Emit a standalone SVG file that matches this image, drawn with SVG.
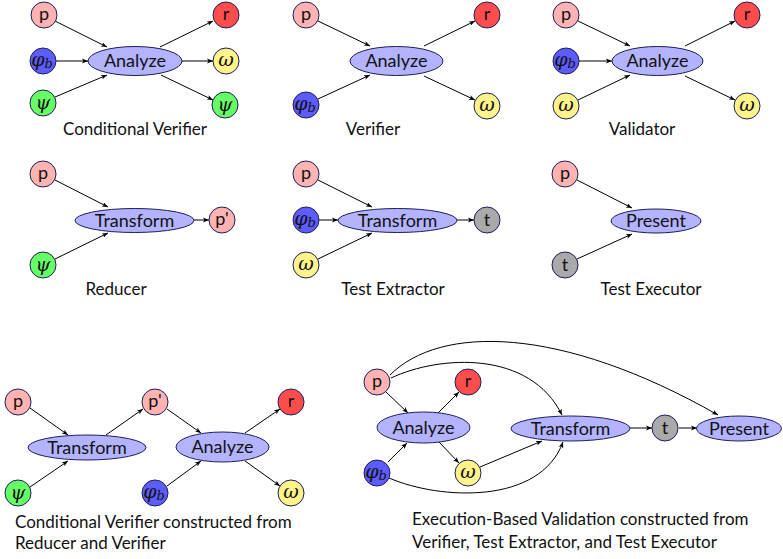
<svg xmlns="http://www.w3.org/2000/svg" width="783" height="559" viewBox="0 0 783 559">
<defs>
<marker id="ah" viewBox="0 0 10 10" refX="10" refY="5" markerWidth="6" markerHeight="6" orient="auto" markerUnits="userSpaceOnUse">
<path d="M0,1 L10,5 L0,9 L2.5,5 Z" fill="#000"/>
</marker>
<style>
.c{stroke:#1e1e5a;stroke-width:1}
.pk{fill:#ffb3b3}.rd{fill:#ff4d4d}.bl{fill:#5c5cff}.gr{fill:#66ff66}.yl{fill:#fff38c}.gy{fill:#aaaaaa}
.el{fill:#b3b3ff;stroke:#1e1e5a;stroke-width:1}
.t{font-family:Lato,"Liberation Sans",sans-serif;font-size:18px;fill:#111;text-anchor:middle}
.m{font-family:"DejaVu Serif","Liberation Serif",serif;font-style:italic;font-size:19px;fill:#111;text-anchor:middle}
.cap{font-family:Lato,"Liberation Sans",sans-serif;font-size:17px;fill:#111}
.e{fill:none;stroke:#000;stroke-width:1;marker-end:url(#ah)}
</style>
</defs>
<rect width="783" height="559" fill="#fff"/>

<g id="connectors">
<!-- panel 1 -->
<line class="e" x1="55" y1="21" x2="107" y2="47"/>
<line class="e" x1="56" y1="61" x2="88" y2="61"/>
<line class="e" x1="55" y1="97" x2="107" y2="75"/>
<line class="e" x1="160" y1="47" x2="213" y2="21"/>
<line class="e" x1="182" y1="61" x2="213" y2="61"/>
<line class="e" x1="161" y1="75" x2="213" y2="100"/>
<!-- panel 2 -->
<line class="e" x1="318" y1="21" x2="370" y2="46"/>
<line class="e" x1="318" y1="99" x2="370" y2="75"/>
<line class="e" x1="424" y1="46" x2="475" y2="21"/>
<line class="e" x1="424" y1="76" x2="475" y2="100"/>
<!-- panel 3 -->
<line class="e" x1="578" y1="21" x2="630" y2="46"/>
<line class="e" x1="579" y1="61" x2="612" y2="61"/>
<line class="e" x1="578" y1="100" x2="630" y2="75"/>
<line class="e" x1="685" y1="46" x2="735" y2="21"/>
<line class="e" x1="685" y1="76" x2="735" y2="100"/>
<!-- panel 4 -->
<line class="e" x1="55" y1="180" x2="108" y2="207"/>
<line class="e" x1="55" y1="259" x2="108" y2="233"/>
<line class="e" x1="194" y1="220" x2="209" y2="220"/>
<!-- panel 5 -->
<line class="e" x1="318" y1="180" x2="372" y2="207"/>
<line class="e" x1="319" y1="220" x2="338" y2="220"/>
<line class="e" x1="318" y1="259" x2="372" y2="233"/>
<line class="e" x1="457" y1="220" x2="474" y2="220"/>
<!-- panel 6 -->
<line class="e" x1="577" y1="180" x2="632" y2="208"/>
<line class="e" x1="577" y1="259" x2="632" y2="234"/>
<!-- panel 7 -->
<line class="e" x1="30" y1="408" x2="68" y2="435"/>
<line class="e" x1="30" y1="487" x2="68" y2="461"/>
<line class="e" x1="106" y1="435" x2="143" y2="409"/>
<line class="e" x1="167" y1="409" x2="201" y2="433"/>
<line class="e" x1="167" y1="486" x2="201" y2="461"/>
<line class="e" x1="245" y1="433" x2="280" y2="409"/>
<line class="e" x1="245" y1="461" x2="280" y2="486"/>
<!-- panel 8 -->
<line class="e" x1="386" y1="392" x2="408" y2="413"/>
<line class="e" x1="388" y1="462" x2="407" y2="443"/>
<line class="e" x1="438" y1="413" x2="459" y2="392"/>
<line class="e" x1="439" y1="442" x2="459" y2="463"/>
<line class="e" x1="480" y1="467" x2="542" y2="441"/>
<line class="e" x1="630" y1="428" x2="652" y2="428"/>
<line class="e" x1="679" y1="428" x2="697" y2="428"/>
<path class="e" d="M390,375 C440,325 560,325 718,415"/>
<path class="e" d="M391,378 C440,355 530,350 562,415"/>
<path class="e" d="M389,478 C440,500 540,505 563,442"/>
</g>

<!-- panel 1 -->
<g id="cv-p"><circle class="c pk" cx="44" cy="15" r="13"/><text class="t" x="44" y="20">p</text></g>
<g id="cv-phib"><circle class="c bl" cx="43" cy="61" r="13"/><text class="m" x="42" y="66">φ<tspan font-size="13" dy="2">b</tspan></text></g>
<g id="cv-psi"><circle class="c gr" cx="43" cy="103" r="13"/><text class="m" x="43" y="109">ψ</text></g>
<g id="cv-analyze"><ellipse class="el" cx="135" cy="61" rx="47" ry="14.5"/><text class="t" x="135" y="67">Analyze</text></g>
<g id="cv-r"><circle class="c rd" cx="226" cy="15" r="13"/><text class="t" x="226" y="20">r</text></g>
<g id="cv-omega"><circle class="c yl" cx="226" cy="61" r="13"/><text class="m" x="226" y="66">ω</text></g>
<g id="cv-psi2"><circle class="c gr" cx="225" cy="105" r="13"/><text class="m" x="225" y="111">ψ</text></g>
<text class="cap" x="135" y="135" text-anchor="middle">Conditional Verifier</text>

<!-- panel 2 -->
<g id="v-p"><circle class="c pk" cx="306" cy="15" r="13"/><text class="t" x="306" y="20">p</text></g>
<g id="v-phib"><circle class="c bl" cx="306" cy="105" r="13"/><text class="m" x="305" y="110">φ<tspan font-size="13" dy="2">b</tspan></text></g>
<g id="v-analyze"><ellipse class="el" cx="396.5" cy="61" rx="46.5" ry="14.5"/><text class="t" x="396.5" y="67">Analyze</text></g>
<g id="v-r"><circle class="c rd" cx="487" cy="15" r="13"/><text class="t" x="487" y="20">r</text></g>
<g id="v-omega"><circle class="c yl" cx="487" cy="106" r="13"/><text class="m" x="487" y="111">ω</text></g>
<text class="cap" x="373" y="135" text-anchor="middle">Verifier</text>

<!-- panel 3 -->
<g id="va-p"><circle class="c pk" cx="566" cy="15" r="13"/><text class="t" x="566" y="20">p</text></g>
<g id="va-phib"><circle class="c bl" cx="566" cy="61" r="13"/><text class="m" x="565" y="66">φ<tspan font-size="13" dy="2">b</tspan></text></g>
<g id="va-omega"><circle class="c yl" cx="566" cy="106" r="13"/><text class="m" x="566" y="111">ω</text></g>
<g id="va-analyze"><ellipse class="el" cx="657.5" cy="61" rx="45.5" ry="14.5"/><text class="t" x="657.5" y="67">Analyze</text></g>
<g id="va-r"><circle class="c rd" cx="747" cy="15" r="13"/><text class="t" x="747" y="20">r</text></g>
<g id="va-omega2"><circle class="c yl" cx="747" cy="106" r="13"/><text class="m" x="747" y="111">ω</text></g>
<text class="cap" x="642" y="135" text-anchor="middle">Validator</text>

<!-- panel 4 -->
<g id="re-p"><circle class="c pk" cx="43" cy="174" r="13"/><text class="t" x="43" y="179">p</text></g>
<g id="re-psi"><circle class="c gr" cx="43" cy="265" r="13"/><text class="m" x="43" y="271">ψ</text></g>
<g id="re-transform"><ellipse class="el" cx="134.5" cy="220.5" rx="59.5" ry="12"/><text class="t" x="134.5" y="227">Transform</text></g>
<g id="re-pp"><circle class="c pk" cx="222" cy="220" r="13"/><text class="t" x="222" y="225">p'</text></g>
<text class="cap" x="116" y="295" text-anchor="middle">Reducer</text>

<!-- panel 5 -->
<g id="te-p"><circle class="c pk" cx="306" cy="174" r="13"/><text class="t" x="306" y="179">p</text></g>
<g id="te-phib"><circle class="c bl" cx="306" cy="220" r="13"/><text class="m" x="305" y="225">φ<tspan font-size="13" dy="2">b</tspan></text></g>
<g id="te-omega"><circle class="c yl" cx="306" cy="265" r="13"/><text class="m" x="306" y="270">ω</text></g>
<g id="te-transform"><ellipse class="el" cx="397.5" cy="220.5" rx="59.5" ry="12"/><text class="t" x="397.5" y="227">Transform</text></g>
<g id="te-t"><circle class="c gy" cx="487" cy="220" r="13"/><text class="t" x="487" y="226">t</text></g>
<text class="cap" x="393" y="295" text-anchor="middle">Test Extractor</text>

<!-- panel 6 -->
<g id="tx-p"><circle class="c pk" cx="565" cy="174" r="13"/><text class="t" x="565" y="179">p</text></g>
<g id="tx-t"><circle class="c gy" cx="565" cy="265" r="13"/><text class="t" x="565" y="271">t</text></g>
<g id="tx-present"><ellipse class="el" cx="656" cy="221" rx="45" ry="12"/><text class="t" x="656" y="227">Present</text></g>
<text class="cap" x="651" y="295" text-anchor="middle">Test Executor</text>

<!-- panel 7 -->
<g id="c7-p"><circle class="c pk" cx="18" cy="402" r="13"/><text class="t" x="18" y="407">p</text></g>
<g id="c7-psi"><circle class="c gr" cx="18" cy="493" r="13"/><text class="m" x="18" y="499">ψ</text></g>
<g id="c7-transform"><ellipse class="el" cx="87" cy="447.5" rx="59" ry="12.5"/><text class="t" x="87" y="454">Transform</text></g>
<g id="c7-pp"><circle class="c pk" cx="155" cy="402" r="13"/><text class="t" x="155" y="407">p'</text></g>
<g id="c7-phib"><circle class="c bl" cx="155" cy="493" r="13"/><text class="m" x="154" y="498">φ<tspan font-size="13" dy="2">b</tspan></text></g>
<g id="c7-analyze"><ellipse class="el" cx="222.5" cy="447" rx="46.5" ry="15"/><text class="t" x="222.5" y="453">Analyze</text></g>
<g id="c7-r"><circle class="c rd" cx="291" cy="402" r="13"/><text class="t" x="291" y="407">r</text></g>
<g id="c7-omega"><circle class="c yl" cx="291" cy="493" r="13"/><text class="m" x="291" y="498">ω</text></g>
<text class="cap" x="15" y="528">Conditional Verifier constructed from</text>
<text class="cap" x="15" y="549">Reducer and Verifier</text>

<!-- panel 8 -->
<g id="c8-p"><circle class="c pk" cx="377" cy="382" r="13"/><text class="t" x="377" y="387">p</text></g>
<g id="c8-r"><circle class="c rd" cx="468" cy="382" r="13"/><text class="t" x="468" y="387">r</text></g>
<g id="c8-analyze"><ellipse class="el" cx="423.5" cy="427.5" rx="46.5" ry="15.5"/><text class="t" x="423.5" y="434">Analyze</text></g>
<g id="c8-phib"><circle class="c bl" cx="377" cy="473" r="13"/><text class="m" x="376" y="478">φ<tspan font-size="13" dy="2">b</tspan></text></g>
<g id="c8-omega"><circle class="c yl" cx="468" cy="473" r="13"/><text class="m" x="468" y="478">ω</text></g>
<g id="c8-transform"><ellipse class="el" cx="570.5" cy="428.5" rx="59.5" ry="12.5"/><text class="t" x="570.5" y="435">Transform</text></g>
<g id="c8-t"><circle class="c gy" cx="665" cy="428" r="13"/><text class="t" x="665" y="434">t</text></g>
<g id="c8-present"><ellipse class="el" cx="739" cy="428.5" rx="42.5" ry="12.5"/><text class="t" x="739" y="435">Present</text></g>
<text class="cap" x="412" y="525">Execution-Based Validation constructed from</text>
<text class="cap" x="412" y="548">Verifier, Test Extractor, and Test Executor</text>
</svg>
